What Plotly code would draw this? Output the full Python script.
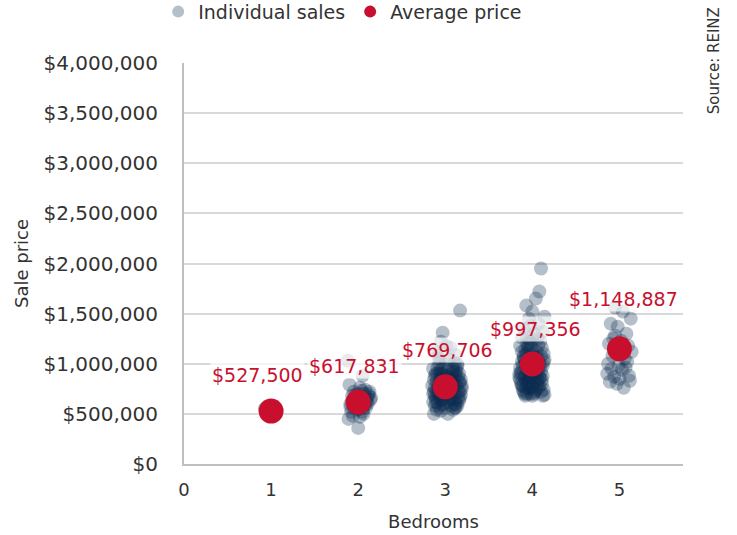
import plotly.graph_objects as go

# ---------------- data ----------------
bedrooms = [1, 2, 3, 4, 5]
avg_price = [527500, 617831, 769706, 997356, 1148887]
avg_labels = ["$527,500", "$617,831", "$769,706", "$997,356", "$1,148,887"]
label_shift_y = [36, 36, 37, 35, 50]
label_shift_x = [-14, -4, 2, 3, 4]

y_ticks = [0, 500000, 1000000, 1500000, 2000000, 2500000, 3000000, 3500000, 4000000]
y_tick_text = ["$0", "$500,000", "$1,000,000", "$1,500,000", "$2,000,000",
               "$2,500,000", "$3,000,000", "$3,500,000", "$4,000,000"]
x_ticks = [0, 1, 2, 3, 4, 5]

# individual sales: jittered bedroom position, price (thousands)
b1_x = [0.93, 0.95, 0.99]
b1_k = [555, 500, 530]

b2_x = [1.88, 2.05, 1.90, 2.02, 2.08, 2.12, 1.95, 2.10, 2.14, 1.93, 2.00, 2.06, 1.97, 1.91, 2.03,
        2.09, 1.95, 1.99, 2.05, 1.92, 2.11, 1.94, 2.02, 1.89, 2.06, 1.98, 2.04, 1.96, 2.07, 2.00,
        2.13, 1.93, 2.01, 2.10, 1.97, 2.04, 2.12, 1.91, 2.08, 2.01, 1.95, 2.06, 2.15]
b2_k = [1030, 880, 790, 760, 740, 700, 720, 660, 640, 680, 700, 620, 650, 600, 580,
        560, 560, 540, 520, 520, 600, 480, 470, 450, 500, 610, 660, 590, 700, 360,
        720, 630, 550, 620, 690, 730, 680, 570, 590, 640, 610, 560, 660]

b3_x = [3.17, 2.97, 2.95, 3.06, 2.90, 3.11, 3.01, 2.93, 3.14,
        2.86, 2.88, 2.90, 2.92, 2.94, 2.96, 2.98, 3.00, 3.02, 3.04, 3.06, 3.08, 3.10, 3.12, 3.14,
        3.16, 3.18, 3.19, 3.17, 3.15, 3.13, 3.11, 3.09, 3.07, 3.05, 3.03, 3.01, 2.99, 2.97, 2.95,
        2.93, 2.91, 2.89, 2.87, 2.85, 2.87, 2.89, 2.91, 2.93, 2.95, 2.97, 2.99, 3.01, 3.03, 3.05,
        3.07, 3.09, 3.11, 3.13, 3.15, 3.17, 3.19, 3.18, 3.16, 3.14, 3.12, 3.10, 3.08, 3.06, 3.04,
        3.02, 3.00, 2.98, 2.96, 2.94, 2.92, 2.90, 2.88, 2.86, 2.88, 2.90, 2.87, 3.03, 3.12, 2.96,
        3.06, 3.00, 3.10, 2.94, 3.04, 2.92,
        2.89, 2.93, 2.97, 3.01, 3.05, 3.09, 3.13, 3.17, 2.91, 2.95, 2.99, 3.03, 3.07, 3.11, 3.15,
        2.88, 2.92, 2.96, 3.00, 3.04, 3.08, 3.12, 3.16, 2.86]
b3_k = [1530, 1310, 1220, 1160, 1120, 1090, 1180, 1050, 1000,
        950, 880, 820, 760, 700, 640, 600, 560, 620, 680, 740, 800, 860, 920, 980,
        900, 840, 780, 720, 660, 600, 560, 540, 580, 640, 700, 760, 820, 880, 940,
        1000, 960, 900, 840, 780, 720, 660, 610, 570, 530, 590, 650, 710, 770, 830,
        890, 950, 1010, 940, 870, 810, 750, 690, 630, 580, 640, 700, 760, 820, 880,
        940, 1000, 960, 900, 840, 780, 720, 680, 620, 580, 540, 500, 500, 560, 750,
        710, 870, 790, 900, 1040, 1080,
        620, 680, 740, 800, 860, 920, 780, 660, 900, 840, 780, 720, 660, 600, 720,
        760, 700, 640, 700, 760, 820, 880, 820, 700]

b4_x = [4.10, 4.08, 4.04, 3.93, 4.00, 4.14, 3.96, 4.07, 3.90, 4.02, 3.88, 4.12, 3.98,
        3.86, 3.88, 3.90, 3.92, 3.94, 3.96, 3.98, 4.00, 4.02, 4.04, 4.06, 4.08, 4.10, 4.12, 4.14,
        4.13, 4.11, 4.09, 4.07, 4.05, 4.03, 4.01, 3.99, 3.97, 3.95, 3.93, 3.91, 3.89, 3.87, 3.85,
        3.87, 3.89, 3.91, 3.93, 3.95, 3.97, 3.99, 4.01, 4.03, 4.05, 4.07, 4.09, 4.11, 4.13, 4.14,
        4.12, 4.10, 4.08, 4.06, 4.04, 4.02, 4.00, 3.98, 3.96, 3.94, 3.92, 3.90, 3.88, 3.86, 3.85,
        3.86, 3.88, 3.90, 3.92, 3.94, 3.96, 3.98, 4.00, 4.02, 4.04, 4.06, 3.96, 3.92, 4.08, 4.10,
        4.12, 3.94, 4.06, 4.00,
        3.89, 3.93, 3.97, 4.01, 4.05, 4.09, 4.13, 3.87, 3.91, 3.95, 3.99, 4.03, 4.07, 4.11, 3.98]
b4_k = [1950, 1720, 1650, 1580, 1520, 1470, 1450, 1400, 1350, 1300, 1260, 1320, 1380,
        1180, 1120, 1060, 1000, 940, 880, 820, 760, 700, 740, 800, 860, 920, 980, 1040,
        1100, 1160, 1220, 1180, 1120, 1060, 1000, 940, 880, 820, 760, 700, 740, 800, 860,
        920, 980, 1040, 1100, 1160, 1220, 1160, 1100, 1040, 980, 920, 860, 800, 740, 690,
        680, 720, 780, 840, 900, 960, 1020, 1080, 1140, 1200, 1140, 1080, 1020, 960, 900,
        840, 780, 720, 680, 700, 760, 700, 680, 820, 1000, 1060, 1000, 880, 1000, 1080,
        880, 1260, 1250, 1240,
        780, 820, 860, 900, 940, 980, 1020, 900, 860, 800, 760, 720, 760, 840, 900]

b5_x = [4.95, 5.04, 5.13, 4.90, 4.98, 5.08, 4.93, 5.02, 4.88, 5.10, 4.96, 5.14, 4.92, 5.06, 4.87,
        4.99, 5.03, 4.86, 5.11, 4.94, 5.00, 5.12, 4.89, 4.97, 5.05, 4.91, 5.01, 5.09, 4.95, 5.07]
b5_k = [1560, 1520, 1450, 1400, 1370, 1300, 1250, 1230, 1200, 1180, 1150, 1120, 1080, 1050, 1000,
        980, 940, 900, 880, 870, 850, 830, 820, 800, 760, 950, 1100, 1020, 1280, 960]

sales_x = b1_x + b2_x + b3_x + b4_x + b5_x
sales_y = [k * 1000 for k in (b1_k + b2_k + b3_k + b4_k + b5_k)]

# ---------------- figure ----------------
FONT = "DejaVu Sans"
TXT = "#333333"
RED = "#c8102e"

fig = go.Figure()
fig.add_trace(go.Scatter(
    x=sales_x, y=sales_y, mode="markers", name="Individual sales",
    marker=dict(size=14, color="#0b2a50", opacity=0.3, line=dict(width=0)),
))
fig.add_trace(go.Scatter(
    x=bedrooms, y=avg_price, mode="markers", name="Average price",
    marker=dict(size=25, color=RED, line=dict(width=0)),
))

for b, p, lab, sy, sx in zip(bedrooms, avg_price, avg_labels, label_shift_y, label_shift_x):
    fig.add_annotation(
        x=b, y=p, text=lab, showarrow=False, yshift=sy, xshift=sx,
        font=dict(family=FONT, size=19, color=RED),
        bgcolor="rgba(255,255,255,0.7)", borderpad=1,
    )

fig.add_annotation(
    xref="paper", yref="paper", x=1.062, y=1.145, text="Source: REINZ",
    textangle=-90, showarrow=False, xanchor="center", yanchor="top",
    font=dict(family=FONT, size=15, color=TXT),
)

fig.update_layout(
    width=737, height=535,
    margin=dict(l=184, r=54, t=63, b=71, autoexpand=False),
    paper_bgcolor="white", plot_bgcolor="white",
    font=dict(family=FONT, size=18, color=TXT),
    showlegend=True,
    legend=dict(orientation="h", x=0.318, xanchor="center", yref="container",
                y=0.978, yanchor="middle",
                font=dict(family=FONT, size=19, color=TXT), itemsizing="constant",
                tracegroupgap=0),
    xaxis=dict(
        range=[0, 5.73], tickvals=x_ticks, showgrid=False, zeroline=False,
        showline=True, linecolor="#bfbfbf", linewidth=2, automargin=False,
        ticks="outside", ticklen=8, tickcolor="rgba(0,0,0,0)",
        tickfont=dict(size=18, color=TXT),
        title=dict(text="Bedrooms", font=dict(size=18, color=TXT), standoff=17),
    ),
    yaxis=dict(
        range=[0, 4000000], tickvals=y_ticks, ticktext=y_tick_text,
        showgrid=True, gridcolor="#d9d9d9", gridwidth=1.5, zeroline=False,
        showline=True, linecolor="#bfbfbf", linewidth=2, automargin=False,
        ticks="outside", ticklen=20, tickcolor="rgba(0,0,0,0)",
        tickfont=dict(size=20, color=TXT),
        title=dict(text="Sale price", font=dict(size=18, color=TXT), standoff=10),
    ),
)

fig.write_html("out.html", config={"displayModeBar": False},
               post_script="document.body.style.margin='0';")
